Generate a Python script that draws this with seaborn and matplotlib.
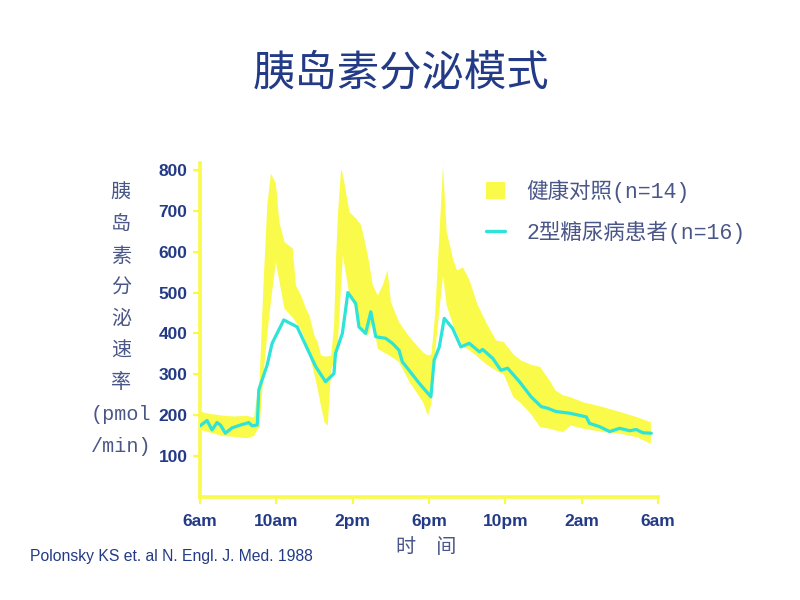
import matplotlib
matplotlib.use("Agg")
import matplotlib.pyplot as plt
from matplotlib.patches import Patch
from matplotlib.lines import Line2D
import seaborn as sns
import pandas as pd

# ---- data ----
title = "胰岛素分泌模式"
ylabel = "胰\n岛\n素\n分\n泌\n速\n率\n(pmol\n/min)"
xlabel = "时　间"
citation = "Polonsky KS et. al N. Engl. J. Med. 1988"
legend_labels = ["健康对照(n=14)", "2型糖尿病患者(n=16)"]
x_ticks = [0, 4, 8, 12, 16, 20, 24]
x_ticklabels = ["6am", "10am", "2pm", "6pm", "10pm", "2am", "6am"]
y_ticks = [100, 200, 300, 400, 500, 600, 700, 800]

# hours since 6am, type-2 diabetic mean secretion
t_line = [0, 0.37, 0.63, 0.89, 1.07, 1.33, 1.68, 2.12, 2.56, 2.73,
          3.0, 3.08, 3.52, 3.78, 4.39, 5.09, 6.06, 6.58, 7.02, 7.1,
          7.46, 7.75, 8.16, 8.33, 8.68, 8.95, 9.21, 9.73, 10.08, 10.43,
          10.6, 11.49, 12.1, 12.27, 12.54, 12.8, 13.24, 13.67, 14.11, 14.64,
          14.81, 15.34, 15.77, 16.12, 16.74, 17.35, 17.88, 18.22, 18.66, 19.36,
          20.24, 20.41, 20.94, 21.47, 21.99, 22.52, 22.86, 23.21, 23.65]
diabetic = [174, 187, 164, 182, 176, 156, 169, 176, 182, 174,
            176, 262, 323, 376, 433, 416, 319, 282, 302, 351,
            400, 500, 473, 416, 400, 453, 392, 388, 376, 359,
            331, 278, 245, 335, 367, 437, 412, 367, 376, 355,
            361, 339, 310, 315, 282, 245, 221, 217, 209, 205,
            196, 180, 172, 160, 168, 162, 165, 157, 156]

# healthy control range (lower / upper envelope)
t_band = [0.0, 0.4, 1.2, 1.8, 2.4, 2.8, 3.1, 3.3, 3.5, 3.69,
          3.95, 4.13, 4.4, 4.83, 5.0, 5.27, 5.53, 5.71, 5.97, 6.14,
          6.32, 6.5, 6.67, 6.85, 7.0, 7.11, 7.2, 7.37, 7.46, 7.81,
          8.16, 8.42, 8.77, 9.03, 9.29, 9.56, 9.8, 9.98, 10.4, 10.96,
          11.66, 11.92, 12.1, 12.3, 12.71, 12.9, 13.25, 13.45, 13.75, 14.1,
          14.5, 15.0, 15.5, 15.9, 16.4, 16.8, 17.3, 17.8, 18.3, 18.6,
          19.0, 19.4, 20.1, 20.5, 21.1, 22.0, 22.9, 23.6]
healthy_low = [165, 160, 150, 148, 145, 150, 175, 300, 400, 480,
               576, 530, 462, 440, 429, 410, 380, 350, 300, 266,
               222, 184, 176, 315, 330, 350, 380, 520, 592, 495,
               460, 410, 395, 430, 364, 356, 350, 345, 331, 282,
               233, 200, 230, 360, 543, 470, 420, 400, 370, 360,
               345, 325, 310, 300, 245, 230, 205, 172, 168, 164,
               160, 176, 168, 165, 160, 156, 147, 131]
healthy_high = [210, 205, 200, 198, 200, 195, 290, 520, 715, 792,
                768, 674, 625, 609, 519, 494, 462, 445, 396, 380,
                347, 345, 345, 347, 420, 592, 690, 804, 790, 698,
                682, 666, 592, 519, 494, 520, 556, 478, 429, 392,
                355, 347, 350, 450, 812, 650, 580, 555, 563, 531,
                474, 425, 384, 380, 350, 335, 325, 319, 286, 262,
                250, 245, 232, 228, 221, 209, 196, 184]

# ---- style ----
YELLOW = "#FAFA4A"
CYAN = "#2EE3D8"
NAVY = "#233A86"
SLATE = "#4A5688"

sns.set_theme(style="white")
plt.rcParams["font.family"] = ["Noto Sans CJK SC", "DejaVu Sans"]

fig = plt.figure(figsize=(8, 6), dpi=100)
ax = fig.add_axes([0.25, 0.1717, 0.5725, 0.5567])

ax.fill_between(t_band, healthy_low, healthy_high, color=YELLOW, linewidth=0, zorder=1)
df = pd.DataFrame({"t": t_line, "v": diabetic})
sns.lineplot(data=df, x="t", y="v", ax=ax, color=CYAN, linewidth=2.3,
             estimator=None, sort=False, zorder=3)

ax.set_xlim(0, 24)
ax.set_ylim(0, 817)
ax.set_xticks(x_ticks)
ax.set_xticklabels(x_ticklabels)
ax.set_yticks(y_ticks)
ax.set_xlabel("")
ax.set_ylabel("")

for side in ["top", "right"]:
    ax.spines[side].set_visible(False)
for side in ["left", "bottom"]:
    ax.spines[side].set_color(YELLOW)
    ax.spines[side].set_linewidth(2.6)

ax.tick_params(axis="both", which="major", direction="out", length=5, width=1.6,
               color=YELLOW, labelcolor=NAVY, bottom=True, left=True)
ax.tick_params(axis="y", pad=4)
ax.tick_params(axis="x", pad=7)
for lab in ax.get_xticklabels() + ax.get_yticklabels():
    lab.set_fontfamily(["Liberation Sans", "DejaVu Sans"])
    lab.set_fontweight("bold")
    lab.set_fontsize(12.5)

# title
fig.text(0.501, 0.878, title, ha="center", va="center", fontsize=30.5, color=NAVY,
         family=["Noto Sans CJK SC", "DejaVu Sans"])

# y label (stacked)
fig.text(0.151, 0.694, ylabel, ha="center", va="top", fontsize=14.5, color=SLATE,
         linespacing=1.84, family=["Liberation Mono", "Noto Sans CJK SC"])

# x label
fig.text(0.533, 0.087, xlabel, ha="center", va="center", fontsize=14.5, color=SLATE,
         family=["Noto Sans CJK SC", "DejaVu Sans"])

# citation
fig.text(0.038, 0.073, citation, ha="left", va="center", fontsize=11.3, color=NAVY,
         family=["Liberation Sans", "DejaVu Sans"])

handles = [Patch(facecolor=YELLOW, edgecolor="none"),
           Line2D([0], [0], color=CYAN, linewidth=2.4)]
leg = fig.legend(handles, legend_labels, loc="upper left",
                 bbox_to_anchor=(0.597, 0.715), frameon=False,
                 prop={"family": ["Liberation Mono", "Noto Sans CJK SC"], "size": 15.5},
                 handlelength=0.85, handleheight=0.9, handletextpad=1.0,
                 labelspacing=0.85, borderaxespad=0)
for txt in leg.get_texts():
    txt.set_color(SLATE)

fig.savefig("out.png", dpi=100, facecolor="white")
